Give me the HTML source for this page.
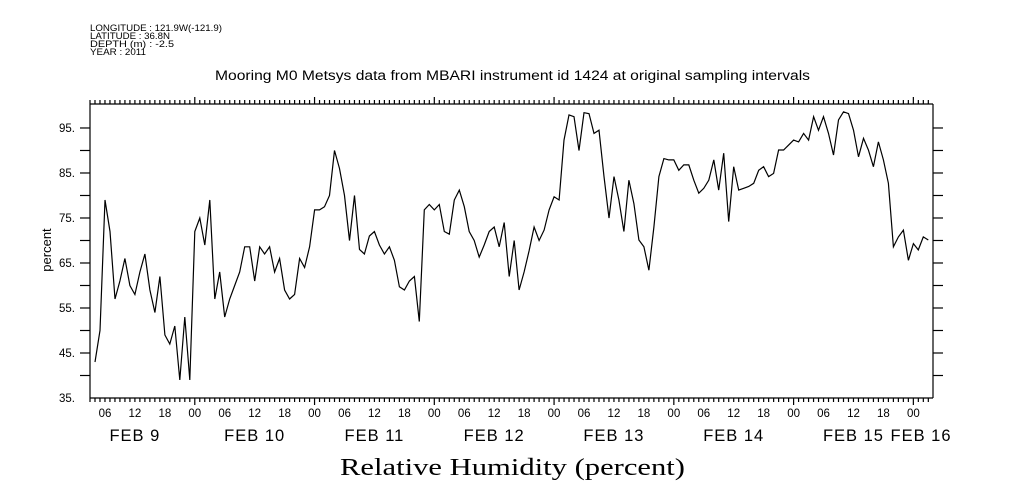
<!DOCTYPE html>
<html>
<head>
<meta charset="utf-8">
<style>
  html,body{margin:0;padding:0;background:#fff;}
  svg{display:block;}
  text{font-family:"Liberation Sans",sans-serif;fill:#000;}
</style>
</head>
<body>
<svg id="chart" width="1009" height="504" viewBox="0 0 1009 504" xmlns="http://www.w3.org/2000/svg">
  <g font-size="9.5">
    <text x="90" y="31" textLength="132" lengthAdjust="spacingAndGlyphs">LONGITUDE : 121.9W(-121.9)</text>
    <text x="90" y="39" textLength="80" lengthAdjust="spacingAndGlyphs">LATITUDE : 36.8N</text>
    <text x="90" y="47" textLength="84" lengthAdjust="spacingAndGlyphs">DEPTH (m) : -2.5</text>
    <text x="90" y="55" textLength="56" lengthAdjust="spacingAndGlyphs">YEAR : 2011</text>
  </g>
  <text x="215" y="80" textLength="595" lengthAdjust="spacingAndGlyphs" font-size="13.5">Mooring M0 Metsys data from MBARI instrument id 1424 at original sampling intervals</text>
  <text transform="translate(51,250) rotate(-90)" text-anchor="middle" font-size="13">percent</text>
  <text x="340" y="475" textLength="345" lengthAdjust="spacingAndGlyphs" font-size="24" style="font-family:'Liberation Serif',serif">Relative Humidity (percent)</text>
  <g id="axes"></g>
  <g id="series"></g>
</svg>
<script>
// Hourly humidity values, starting 1 hour after Feb 9 03:00
const humidity = [
43,50,79,72,57,61,66,60,58,63,67,59,54,62,49,47,51,39,53,39,72,75,69,79,57,63,53,57,60,63,
68.6,68.6,61,68.6,67,68.6,63,66,59,57,58,66,64,68.6,76.8,76.8,77.5,80,90,86,80,70,80,68,67,71,72,69,67,
68.6,65.6,59.7,59,61,62,52,76.8,78,76.8,78,72,71.4,79,81.2,77.5,72,70,66.3,69,72,73,68.6,74,62,70,59,63,67.7,
73,70,72.3,76.8,79.7,79,92.3,97.9,97.5,90,98.4,98.2,93.8,94.5,84.2,75,84.2,79,72,83.4,78.2,70.1,68.6,63.4,73,84.2,88.2,87.9,87.9,
85.6,86.8,86.8,83.4,80.5,81.6,83.4,87.9,81.2,89.4,74.2,86.4,81.2,81.6,82,82.7,85.6,86.4,84.2,84.9,90.1,90.1,91.2,92.3,
91.9,93.8,92.3,97.5,94.5,97.5,93.8,89,96.8,98.6,98.2,94.5,88.6,92.7,90.1,86.4,91.9,87.9,82.7,68.6,70.8,72.3,65.6,69.3,67.9,70.8,70.1
];
const yTickValues = [35,45,55,65,75,85,95];
const yTickLabels = ["35.","45.","55.","65.","75.","85.","95."];
const hourLabels = ["06","12","18","00"];
const dayLabels = ["FEB  9","FEB 10","FEB 11","FEB 12","FEB 13","FEB 14","FEB 15","FEB 16"];

const NS = "http://www.w3.org/2000/svg";
const L = 90, R = 933, T = 104, B = 398;
const yMin = 35, yMax = 100.33;
const pxPerHour = 4.99;
const totalHours = (R - L) / pxPerHour;
function xScale(h){ return L + h * pxPerHour; }
function yScale(v){ return B - (v - yMin) / (yMax - yMin) * (B - T); }

const axes = document.getElementById('axes');
function line(x1,y1,x2,y2,name){
  const l = document.createElementNS(NS,'line');
  l.setAttribute('x1',x1); l.setAttribute('y1',y1); l.setAttribute('x2',x2); l.setAttribute('y2',y2);
  l.setAttribute('stroke','#000'); l.setAttribute('stroke-width','1.2');
  
  
  axes.appendChild(l);
}
function txt(x,y,s,size,anchor,name){
  const t = document.createElementNS(NS,'text');
  t.setAttribute('x',x); t.setAttribute('y',y); t.setAttribute('font-size',size);
  t.setAttribute('text-anchor',anchor); t.textContent = s;
  
  
  axes.appendChild(t);
  return t;
}
line(L,T,R,T,'top-axis'); line(L,B,R,B,'bottom-axis');
line(L,T,L,B,'left-axis'); line(R,T,R,B,'right-axis');
for(let v=40; v<=95; v+=5){
  const y = yScale(v);
  line(L-10,y,L,y,'y-tick-left');
  line(R,y,R+10,y,'y-tick-right');
}
yTickValues.forEach((v,i)=>{ txt(L-15, yScale(v)+4, yTickLabels[i], 11.5, 'end', 'y-tick-label'); });
for(let h=0; h<=totalHours; h++){
  const x = xScale(h);
  const hourOfDay = (h + 3) % 24;
  const len = hourOfDay === 0 ? 7 : 4;
  line(x,B,x,B+len,'x-tick-bottom');
  line(x,T,x,T-len,'x-tick-top');
  if(hourOfDay % 6 === 0){
    txt(x, B+19, hourLabels[(hourOfDay/6+3)%4], 11.5, 'middle', 'x-tick-label');
  }
}
dayLabels.forEach((s,i)=>{
  let x = xScale(9 + i*24);
  if(i === dayLabels.length-1) x = 921;
  const t = txt(x, B+43, s, 16.5, 'middle', 'day-label');
  t.setAttribute('letter-spacing','1');
});
const series = document.getElementById('series');
let d = '';
humidity.forEach((v,i)=>{
  d += (i ? 'L' : 'M') + xScale(i+1).toFixed(1) + ',' + yScale(v).toFixed(1);
});
const p = document.createElementNS(NS,'path');
p.setAttribute('d', d);
p.setAttribute('fill','none'); p.setAttribute('stroke','#000'); p.setAttribute('stroke-width','1.2');


series.appendChild(p);
</script>
</body>
</html>
